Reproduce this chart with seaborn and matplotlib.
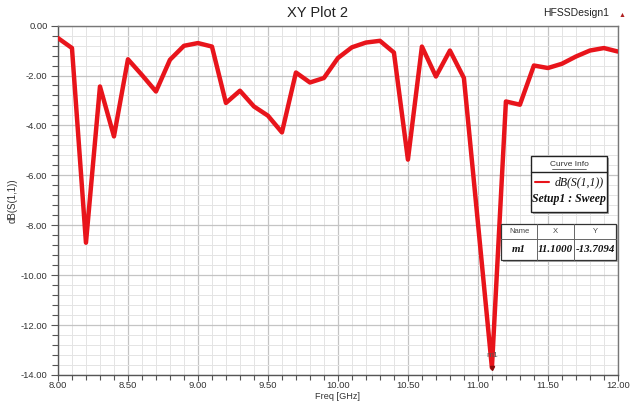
import matplotlib
matplotlib.use("Agg")
import matplotlib.pyplot as plt
from matplotlib.ticker import MultipleLocator, FormatStrFormatter
from matplotlib.patches import Rectangle
import seaborn as sns
import pandas as pd

freq_ghz = [8.0, 8.1, 8.2, 8.3, 8.4, 8.5, 8.6, 8.7, 8.8, 8.9,
            9.0, 9.1, 9.2, 9.3, 9.4, 9.5, 9.6, 9.7, 9.8, 9.9,
            10.0, 10.1, 10.2, 10.3, 10.4, 10.5, 10.6, 10.7, 10.8, 10.9,
            11.0, 11.1, 11.2, 11.3, 11.4, 11.5, 11.6, 11.7, 11.8, 11.9, 12.0]
s11_db = [-0.50, -0.90, -8.70, -2.44, -4.44, -1.35, -1.98, -2.64, -1.37, -0.81,
          -0.70, -0.84, -3.10, -2.61, -3.24, -3.61, -4.28, -1.88, -2.28, -2.10,
          -1.30, -0.87, -0.68, -0.61, -1.08, -5.37, -0.84, -2.04, -1.00, -2.10,
          -7.90, -13.7094, -3.04, -3.17, -1.60, -1.70, -1.53, -1.24, -1.00, -0.90, -1.04]
marker_name = "m1"
marker_x = 11.1
marker_y = -13.7094
y_ticks = [0, -2, -4, -6, -8, -10, -12, -14]
x_ticks = [8.0, 8.5, 9.0, 9.5, 10.0, 10.5, 11.0, 11.5, 12.0]

sns.set_style("white")
plt.rcParams['font.family'] = ['Liberation Sans', 'DejaVu Sans']

fig = plt.figure(figsize=(6.37, 4.03), dpi=100)
ax = fig.add_axes([0.091, 0.0695, 0.879, 0.867])

df = pd.DataFrame({"Freq": freq_ghz, "dB": s11_db})
sns.lineplot(data=df, x="Freq", y="dB", ax=ax, color="#e8141b", linewidth=3.2, zorder=5)

ax.set_xlim(8.0, 12.0)
ax.set_ylim(-14.0, 0.0)
ax.set_xticks(x_ticks)
ax.set_yticks(y_ticks)
ax.xaxis.set_minor_locator(MultipleLocator(0.1))
ax.yaxis.set_minor_locator(MultipleLocator(0.4))
ax.xaxis.set_major_formatter(FormatStrFormatter('%.2f'))
ax.yaxis.set_major_formatter(FormatStrFormatter('%.2f'))
ax.grid(which='major', color='#c4c4c4', linewidth=0.9)
ax.grid(which='minor', color='#e4e4e4', linewidth=0.7)
ax.set_axisbelow(True)
ax.tick_params(which='both', direction='out', colors='#555555', labelcolor='#333333',
               labelsize=6.8, left=True, bottom=True)
ax.tick_params(which='major', length=5, width=0.8)
ax.tick_params(which='minor', length=4, width=0.8)
ax.tick_params(axis='x', which='major', length=4, pad=0.5)
ax.tick_params(axis='x', which='minor', length=3.5)
ax.tick_params(axis='y', which='major', pad=2.5)
for s in ax.spines.values():
    s.set_color('#777777')
    s.set_linewidth(1.0)
for s in ['left', 'bottom']:
    ax.spines[s].set_color('#555555')

ax.set_xlabel("Freq [GHz]", fontsize=6.6, color='#333333')
ax.set_ylabel("dB(S(1,1))", fontsize=7, color='#333333')
ax.xaxis.set_label_coords(0.5, -0.049)
ax.yaxis.set_label_coords(-0.072, 0.5)

# marker
ax.plot([marker_x], [marker_y], marker='v', color='#8a0a0a', markersize=3, zorder=6)
ax.text(marker_x, marker_y + 0.35, marker_name, fontsize=6, color='#555555',
        ha='center', va='bottom', zorder=7)

fig.text(0.499, 0.968, "XY Plot 2", ha='center', va='center', fontsize=10.5, color='#222222')
fig.text(0.905, 0.968, "HFSSDesign1", ha='center', va='center', fontsize=7.5, color='#222222')
fig.text(0.977, 0.962, "▲", ha='center', va='center', fontsize=5, color='#b02020')

# Curve info box
W, H = 637.0, 403.0
def frect(x0, y0, x1, y1, **kw):
    return Rectangle((x0 / W, 1 - y1 / H), (x1 - x0) / W, (y1 - y0) / H,
                     transform=fig.transFigure, **kw)

fig.patches.append(frect(533, 158, 609, 214, facecolor='#aaaaaa', edgecolor='none', zorder=8))
fig.patches.append(frect(531, 156, 607, 212, facecolor='white', edgecolor='#222222', linewidth=1.0, zorder=9))
fig.lines.append(plt.Line2D([531 / W, 607 / W], [1 - 172 / H, 1 - 172 / H],
                            transform=fig.transFigure, color='#222222', linewidth=1.0, zorder=10))
fig.text(569 / W, 1 - 164 / H, "Curve Info", ha='center', va='center', fontsize=6,
         color='#333333', zorder=11)
fig.lines.append(plt.Line2D([552 / W, 586 / W], [1 - 168.5 / H, 1 - 168.5 / H],
                            transform=fig.transFigure, color='#333333', linewidth=0.5, zorder=11))
fig.lines.append(plt.Line2D([535 / W, 549 / W], [1 - 182 / H, 1 - 182 / H],
                            transform=fig.transFigure, color='#e8141b', linewidth=1.5, zorder=11))
fig.text(604 / W, 1 - 182 / H, "dB(S(1,1))", ha='right', va='center', fontsize=8.5,
         family=['Liberation Serif', 'DejaVu Serif'], style='italic', color='#111111', zorder=11)
fig.text(569 / W, 1 - 199 / H, "Setup1 : Sweep", ha='center', va='center', fontsize=8.5,
         family=['Liberation Serif', 'DejaVu Serif'], style='italic', weight='bold',
         color='#111111', zorder=11)

# marker table
fig.patches.append(frect(503, 226, 618, 262, facecolor='#aaaaaa', edgecolor='none', zorder=8))
fig.patches.append(frect(501, 224, 616, 260, facecolor='white', edgecolor='#333333', linewidth=0.9, zorder=9))
for xv in [537, 574]:
    fig.lines.append(plt.Line2D([xv / W, xv / W], [1 - 224 / H, 1 - 260 / H],
                                transform=fig.transFigure, color='#666666', linewidth=0.7, zorder=10))
fig.lines.append(plt.Line2D([501 / W, 616 / W], [1 - 239 / H, 1 - 239 / H],
                            transform=fig.transFigure, color='#666666', linewidth=0.7, zorder=10))
for xc, t in [(519, "Name"), (555.5, "X"), (595, "Y")]:
    fig.text(xc / W, 1 - 231.5 / H, t, ha='center', va='center', fontsize=5.5, color='#444444', zorder=11)
for xc, t in [(519, marker_name), (555.5, f"{marker_x:.4f}"), (595, f"{marker_y:.4f}")]:
    fig.text(xc / W, 1 - 250 / H, t, ha='center', va='center', fontsize=7.8,
             family=['Liberation Serif', 'DejaVu Serif'], style='italic', weight='bold',
             color='#111111', zorder=11)

fig.savefig("out.png", dpi=100)
